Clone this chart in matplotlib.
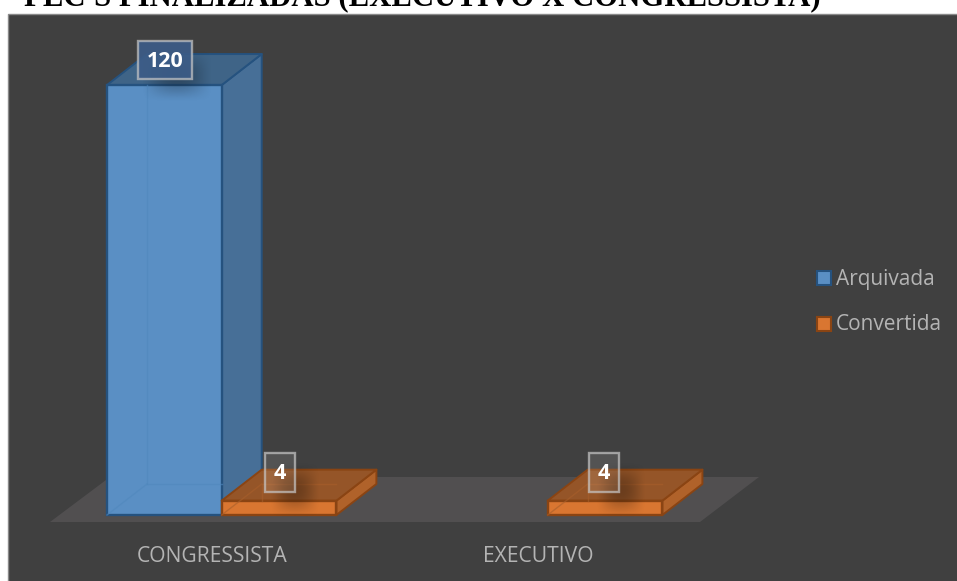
import numpy as np
import matplotlib
matplotlib.use("Agg")
import matplotlib.pyplot as plt
from matplotlib.patches import Polygon, Rectangle

categories = ["CONGRESSISTA", "EXECUTIVO"]
series_names = ["Arquivada", "Convertida"]
arquivada = [120, np.nan]
convertida = [4, 4]
title = "PEC'S FINALIZADAS (EXECUTIVO X CONGRESSISTA)"

W, H = 957, 581
BG = "#404040"
TEXT = "#b4b4b4"
BLUE = {"front": "#5a8fc4", "side": "#476f97", "top": "#3f6487", "edge": "#25527f", "inner": "#5088bd"}
ORANGE = {"front": "#d97631", "side": "#b0622a", "top": "#955528", "edge": "#8a4413", "inner": "#a85f2b"}

# Axis calibration: category 0 sits at x=221.7px, category 1 at 547.7px,
# value 0 at y=515px and 3.583 px per unit.
X0_PX = 221.7
Y0_PX = 515.0
PX_X = 326.0
PX_Y = 3.583
BAR_W = 114.7 / PX_X
DX = 40.0 / PX_X
DY = 31.0 / PX_Y

fig = plt.figure(figsize=(W / 100, H / 100), dpi=100, facecolor="white")
ax = fig.add_axes([0, 0, 1, 1])
ax.set_xlim(-X0_PX / PX_X, (W - X0_PX) / PX_X)
ax.set_ylim(-(H - Y0_PX) / PX_Y, Y0_PX / PX_Y)
ax.axis("off")


def px(x, y):
    """Page pixel position to axes data position."""
    return (x - X0_PX) / PX_X, (Y0_PX - y) / PX_Y


# Chart panel
ax.add_patch(Rectangle(px(8.5, H + 2), W, (H + 2 - 13.5) / PX_Y, fc=BG, ec="#8a8a8a", lw=1.0, zorder=1))

# Floor
ax.add_patch(Polygon([px(50, 522), px(700, 522), px(759, 477), px(110, 477)],
                     closed=True, fc="#514f50", ec="none", zorder=2))


def bar3d(x0, v, pal, z):
    x1 = x0 + BAR_W
    ax.add_patch(Polygon([(x1, 0), (x1 + DX, DY), (x1 + DX, v + DY), (x1, v)], closed=True,
                         fc=pal["side"], ec=pal["edge"], lw=1.4, zorder=z, joinstyle="round"))
    ax.add_patch(Polygon([(x0, v), (x1, v), (x1 + DX, v + DY), (x0 + DX, v + DY)], closed=True,
                         fc=pal["top"], ec=pal["edge"], lw=1.4, zorder=z, joinstyle="round"))
    ax.add_patch(Rectangle((x0, 0), BAR_W, v, fc=pal["front"], ec=pal["edge"], lw=1.7, zorder=z + 0.1))
    # Back edges showing faintly through the translucent box
    ax.plot([x0 + DX, x0 + DX], [DY, v], color=pal["inner"], lw=1.0, alpha=0.6, zorder=z + 0.2)
    ax.plot([x0 + DX, x1], [DY, DY], color=pal["inner"], lw=1.0, alpha=0.6, zorder=z + 0.2)
    ax.plot([x0, x0 + DX], [0, DY], color=pal["inner"], lw=1.0, alpha=0.6, zorder=z + 0.2)


def soft_shadow(x0, y0, x1, y1, strength, z):
    """Soft dark blob cast by a data label, given in page pixels."""
    yy, xx = np.mgrid[-1:1:64j, -1:1:64j]
    alpha = strength * (1 - xx ** 2) ** 1.5 * (1 - yy ** 2) ** 1.5
    img = np.zeros((64, 64, 4))
    img[..., 3] = np.clip(alpha, 0, 1)
    left, top = px(x0, y0)
    right, bottom = px(x1, y1)
    ax.imshow(img, extent=(left, right, bottom, top), aspect="auto", interpolation="bilinear", zorder=z)


def value_label(x, y, text, face, w, h):
    ax.add_patch(Rectangle((x - w / PX_X / 2, y - h / PX_Y / 2), w / PX_X, h / PX_Y, fc=face,
                           ec=(0.78, 0.78, 0.78, 0.7), lw=1.7, zorder=9))
    ax.text(x, y - 1 / PX_Y, text, ha="center", va="center", color="white", fontsize=15.5, fontweight="bold",
            family="Open Sans", zorder=10)


for i, (a, c) in enumerate(zip(arquivada, convertida)):
    if not np.isnan(a):
        bar3d(i - BAR_W, a, BLUE, 4)
    bar3d(i, c, ORANGE, 5)

# Data labels float over the top face of each bar, each with a soft shadow
for i, a in enumerate(arquivada):
    if not np.isnan(a):
        x_left = X0_PX + i * PX_X - 114.7
        soft_shadow(x_left + 34, 50, x_left + 106, 102, 0.28, 8)
        value_label(i - BAR_W + 58 / PX_X, a + 25 / PX_Y, str(a), (0.235, 0.36, 0.53, 0.92), 54, 38)
for i, c in enumerate(convertida):
    x_left = X0_PX + i * PX_X
    soft_shadow(x_left + 48, 462, x_left + 98, 518, 0.28, 8)
    value_label(i + (58 if i == 0 else 56.5) / PX_X, c + 28.5 / PX_Y, str(c), (1, 1, 1, 0.10), 30, 39)

# Category labels
for i, (name, centre) in enumerate(zip(categories, [212, 538.5])):
    ax.text(px(centre, 556)[0], px(centre, 556)[1], name, ha="center", va="center", color=TEXT,
            fontsize=15.2, family="Open Sans", zorder=6)

# Legend
for j, (name, pal) in enumerate(zip(series_names, [BLUE, ORANGE])):
    yc = 278.5 + j * 45
    ax.add_patch(Rectangle(px(816.5, yc + 7), 14 / PX_X, 14 / PX_Y,
                           fc=pal["front"], ec=pal["edge"], lw=1.5, zorder=6))
    tx, ty = px(836, yc + 1)
    ax.text(tx, ty, name, ha="left", va="center", color=TEXT, fontsize=15, family="Open Sans", zorder=6)

ax.set_xlim(-X0_PX / PX_X, (W - X0_PX) / PX_X)
ax.set_ylim(-(H - Y0_PX) / PX_Y, Y0_PX / PX_Y)

# Heading, running off the top of the page
fig.text(24 / W, 1 - 5.5 / H, title, ha="left", va="baseline", color="black", fontsize=22.15,
         fontweight="bold", family="Liberation Serif")

fig.savefig("out.png", dpi=100)
